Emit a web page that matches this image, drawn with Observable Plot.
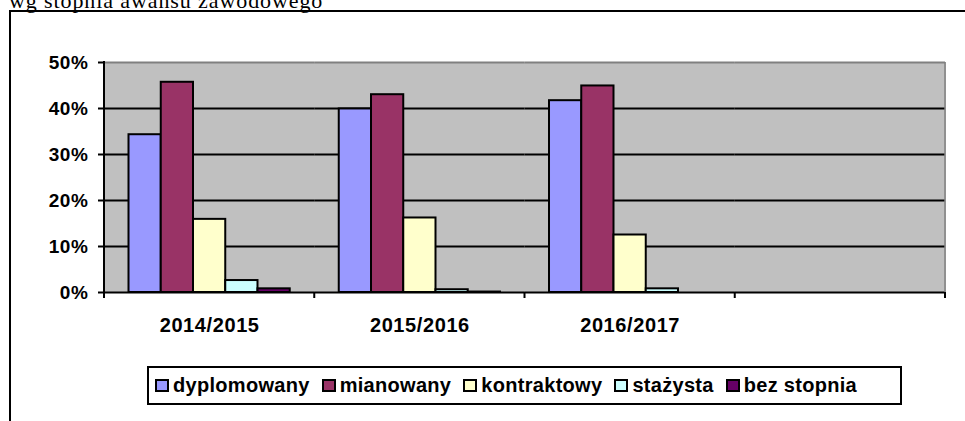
<!DOCTYPE html>
<html><head><meta charset="utf-8">
<script src="https://cdn.jsdelivr.net/npm/d3@7"></script>
<script src="https://cdn.jsdelivr.net/npm/@observablehq/plot@0.6"></script>
<style>
html,body{margin:0;padding:0;background:#fff;overflow:hidden;width:965px;height:421px;}
#page{position:relative;width:965px;height:421px;overflow:hidden;font-family:"Liberation Sans",Arial,sans-serif;}
#title{position:absolute;left:9px;top:-10px;font-family:"Liberation Serif","Times New Roman",serif;font-size:22px;letter-spacing:0.9px;white-space:nowrap;line-height:22px;color:#000;}
#chart{position:absolute;left:0;top:0;width:965px;height:421px;}
#frameTop{position:absolute;left:9px;top:10px;width:956px;height:2px;background:#000;}
#frameLeft{position:absolute;left:9px;top:10px;width:2px;height:411px;background:#000;}
#legend{position:absolute;left:147px;top:366px;width:755px;height:39px;box-sizing:border-box;border:2px solid #000;display:flex;align-items:center;padding-left:6px;background:#fff;}
.item{display:flex;align-items:center;margin-right:12px;font-size:20px;font-weight:bold;letter-spacing:0.3px;white-space:nowrap;}
.sw{width:14px;height:13px;box-sizing:border-box;border:2px solid #000;margin-right:4px;}
#chart svg text{letter-spacing:0.6px;}
</style>
</head><body>
<div id="page">
  <div id="title"></div>
  <div id="chart"></div>
  <div id="frameTop"></div>
  <div id="frameLeft"></div>
  <div id="legend"></div>
</div>
<script>
const titleText = "wg stopnia awansu zawodowego";
const categories = ["2014/2015", "2015/2016", "2016/2017", ""];
const series = ["dyplomowany", "mianowany", "kontraktowy", "stażysta", "bez stopnia"];
const colors = ["#9999FF", "#993366", "#FFFFCC", "#CCFFFF", "#660066"];
const dyplomowany = [0.343, 0.399, 0.417, null];
const mianowany = [0.457, 0.430, 0.449, null];
const kontraktowy = [0.159, 0.162, 0.125, null];
const stazysta = [0.026, 0.006, 0.008, null];
const bezStopnia = [0.008, 0.001, 0.0, null];
const yTicks = [0, 0.1, 0.2, 0.3, 0.4, 0.5];

const valuesBySeries = [dyplomowany, mianowany, kontraktowy, stazysta, bezStopnia];
const rows = [];
categories.forEach((c, i) => series.forEach((s, j) => rows.push({year: c, series: s, value: valuesBySeries[j][i]})));

document.getElementById("title").textContent = titleText;

const plot = Plot.plot({
  width: 965, height: 421,
  marginLeft: 104, marginRight: 20, marginTop: 62, marginBottom: 129,
  style: {background: "transparent", fontFamily: "'Liberation Sans', Arial, sans-serif", color: "#000"},
  fx: {domain: categories, paddingInner: 0, paddingOuter: 0, round: false, label: null},
  x: {domain: series, paddingInner: 0, paddingOuter: 0.76, round: false, axis: null},
  y: {domain: [0, 0.5], label: null},
  color: {domain: series, range: colors},
  marks: [
    Plot.frame({fill: "#c0c0c0", stroke: "#c0c0c0", strokeWidth: 1}),
    Plot.ruleY(yTicks.slice(1, -1), {stroke: "#000", strokeWidth: 2}),
    Plot.ruleY([yTicks[yTicks.length - 1]], {stroke: "#808080", strokeWidth: 2}),
    Plot.barY(rows, {fx: "year", x: "series", y: "value", fill: "series", stroke: "#000", strokeWidth: 2}),
    Plot.ruleY([0], {stroke: "#000", strokeWidth: 2}),
    Plot.axisY({ticks: yTicks, tickFormat: d3.format(".0%"), tickSize: 6, tickPadding: 10, strokeWidth: 2, fontSize: 19, fontWeight: "bold", label: null}),
    Plot.axisFx({anchor: "bottom", tickSize: 0, tickPadding: 25, fontSize: 20, fontWeight: "bold", label: null})
  ]
});
document.getElementById("chart").appendChild(plot);

// decorative axis lines and band-edge ticks derived from the plot's scales
const fx = plot.scale("fx"), ys = plot.scale("y");
const edges = categories.map(c => fx.apply(c));
edges.push(fx.apply(categories[categories.length - 1]) + fx.bandwidth);
const y0 = ys.apply(0), yTop = ys.apply(yTicks[yTicks.length - 1]);
const g = d3.select(plot).append("g");
g.append("line").attr("x1", edges[edges.length - 1]).attr("x2", edges[edges.length - 1])
  .attr("y1", yTop).attr("y2", y0).attr("stroke", "#808080").attr("stroke-width", 1.5);
g.append("line").attr("x1", edges[0]).attr("x2", edges[0])
  .attr("y1", yTop - 1).attr("y2", y0 + 6).attr("stroke", "#000").attr("stroke-width", 2);
g.selectAll(".edge").data(edges).join("line")
  .attr("x1", d => d).attr("x2", d => d).attr("y1", y0).attr("y2", y0 + 6)
  .attr("stroke", "#000").attr("stroke-width", 2);

const legend = d3.select("#legend");
series.forEach((s, i) => {
  const it = legend.append("div").attr("class", "item");
  it.append("div").attr("class", "sw").style("background", colors[i]);
  it.append("span").text(s);
});
</script>
</body></html>
